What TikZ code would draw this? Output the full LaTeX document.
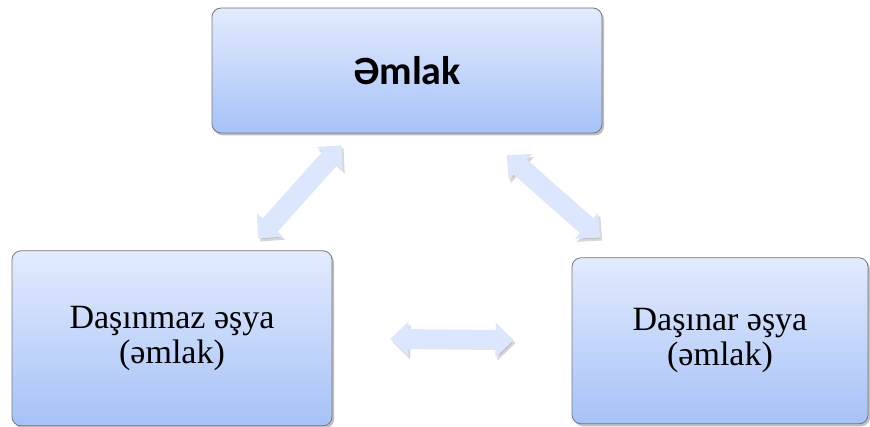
\documentclass[tikz,border=0pt]{standalone}
\usepackage{fontspec}
\setmainfont{Liberation Serif}
\newfontfamily\headfont{Carlito}
\usetikzlibrary{positioning,calc,shadows,arrows.meta}

\definecolor{boxtop}{HTML}{E3EBFD}
\definecolor{boxbottom}{HTML}{A6C2F8}
\definecolor{boxline}{HTML}{767676}
\definecolor{linkfill}{HTML}{DCE6FC}

\begin{document}
\begin{tikzpicture}[%
    x=1pt, y=1pt,               % Work in points, like the page
    >={Triangle[length=18pt,width=34pt]},
    ]
% -------------------------------------------------
% Box and connector styles
\tikzset{
  box/.style={draw=boxline, line width=0.8pt, rounded corners=9pt,
    top color=boxtop, bottom color=boxbottom, align=center,
    drop shadow={shadow xshift=2pt, shadow yshift=-2.5pt, opacity=.5},
    font=\fontsize{34}{35}\selectfont},
  head/.style={font=\headfont\bfseries\fontsize{40}{44}\selectfont},
  link/.style={<->, line width=20pt, draw=linkfill,
    preaction={draw=black!45, opacity=.35,
      transform canvas={shift={(2pt,-3pt)}}}}
}
\useasboundingbox (0,0) rectangle (870,426);
% -------------------------------------------------
% Start by placing the nodes
\node [box, head, minimum width=390pt, minimum height=125pt] (top) at (407,355.5) {Əmlak};
\node [box, minimum width=320pt, minimum height=175pt,
  below=117pt of top.south, xshift=-235pt] (left) {Daşınmaz əşya\\(əmlak)};
\node [box, minimum width=296pt, minimum height=166pt,
  below=124pt of top.south, xshift=313pt] (right) {Daşınar əşya\\(əmlak)};

% Points on the borders where the arrows aim
\coordinate (topL) at ($(top.south west)!0.36!(top.south east)$);
\coordinate (topR) at ($(top.south west)!0.692!(top.south east)$);
\coordinate (leftT) at ($(left.north west)!0.735!(left.north east)$);
\coordinate (rightT) at ($(right.north west)!0.172!(right.north east)$);

\draw[link, shorten <=16pt, shorten >=16pt] (leftT) -- (topL);	%Daşınmaz,Əmlak
\draw[link, shorten <=33pt, shorten >=30pt] (topR) -- (rightT);	%Əmlak,Daşınar
\draw[link, shorten <=58pt, shorten >=58pt] (left.east) -- (right.west);	%Daşınmaz,Daşınar

% -------------------------------------------------
\end{tikzpicture}
\end{document}
